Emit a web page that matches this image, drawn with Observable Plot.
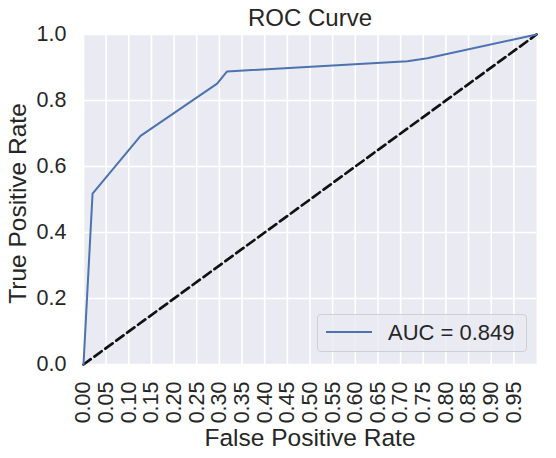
<!DOCTYPE html>
<html>
<head>
<meta charset="utf-8">
<script src="https://cdn.jsdelivr.net/npm/d3@7"></script>
<script src="https://cdn.jsdelivr.net/npm/@observablehq/plot@0.6"></script>
<style>
  body { margin: 0; background: white; }
  #chart { position: relative; width: 556px; height: 458px; font-family: "Liberation Sans", Arial, sans-serif; }
  #legend {
    position: absolute; left: 317px; top: 314px; width: 208px; height: 36px;
    border: 1px solid #cfcfd6; border-radius: 4px; background: rgba(234, 234, 242, 0.8);
  }
  #legend .swatch { position: absolute; left: 8px; top: 16px; width: 46px; height: 2px; background: #4C72B0; }
  #legend .lbl { position: absolute; left: 70px; top: 5px; font-size: 22px; color: #262626; line-height: 26px; }
</style>
</head>
<body>
<div id="chart"></div>
<script>
// roc curve points
var fpr = [0, 0.02, 0.126, 0.295, 0.317, 0.715, 0.759, 1];
var tpr = [0, 0.518, 0.693, 0.851, 0.888, 0.919, 0.928, 1];
// chance line
var chanceX = [0, 1];
var chanceY = [0, 1];
var xTicks = [0, 0.05, 0.1, 0.15, 0.2, 0.25, 0.3, 0.35, 0.4, 0.45, 0.5, 0.55, 0.6, 0.65, 0.7, 0.75, 0.8, 0.85, 0.9, 0.95];
var yTicks = [0, 0.2, 0.4, 0.6, 0.8, 1.0];
var aucLabel = "AUC = 0.849";

function draw_chart() {
  var roc = fpr.map((f, i) => ({ fpr: f, tpr: tpr[i] }));
  var chance = chanceX.map((c, i) => ({ x: c, y: chanceY[i] }));
  var font = "'Liberation Sans', Arial, sans-serif";

  var options = {
    width: 556,
    height: 458,
    marginLeft: 83,
    marginRight: 20,
    marginTop: 34,
    marginBottom: 94,
    style: { background: "white", fontFamily: font, fontSize: "21.5px", color: "#262626" },
    x: { domain: [0, 1] },
    y: { domain: [0, 1] },
    marks: [
      Plot.frame({ fill: "#EAEAF2", stroke: null }),
      Plot.gridX(xTicks, { stroke: "white", strokeOpacity: 1, strokeWidth: 1.6 }),
      Plot.gridY(yTicks, { stroke: "white", strokeOpacity: 1, strokeWidth: 1.6 }),
      Plot.axisX({
        ticks: xTicks, tickFormat: d3.format(".2f"), tickRotate: -90,
        tickSize: 0, tickPadding: 17, label: null, fontSize: 21.5
      }),
      Plot.axisY({
        ticks: yTicks, tickFormat: d3.format(".1f"),
        tickSize: 0, tickPadding: 17, label: null, fontSize: 21.5
      }),
      // dashed diagonal
      Plot.line(chance, { x: "x", y: "y", stroke: "#111", strokeWidth: 2.7, strokeDasharray: "9,4.5" }),
      Plot.line(roc, { x: "fpr", y: "tpr", stroke: "#4C72B0", strokeWidth: 2 }),
      // title and axis labels
      Plot.text(["ROC Curve"], { frameAnchor: "top", dy: -9, lineAnchor: "bottom", fontSize: 24, fill: "#262626" }),
      Plot.text(["False Positive Rate"], { frameAnchor: "bottom", dy: 81, lineAnchor: "bottom", fontSize: 24.5, fill: "#262626" }),
      Plot.text(["True Positive Rate"], {
        frameAnchor: "left", dx: -58, dy: 4, rotate: -90, textAnchor: "middle",
        lineAnchor: "bottom", fontSize: 24.5, fill: "#262626"
      })
    ]
  };

  var el = document.getElementById("chart");
  el.innerHTML = "";
  el.append(Plot.plot(options));

  var leg = document.createElement("div");
  leg.id = "legend";
  leg.innerHTML = '<div class="swatch"></div><div class="lbl">' + aucLabel + "</div>";
  el.append(leg);
}
draw_chart();
</script>
</body>
</html>
